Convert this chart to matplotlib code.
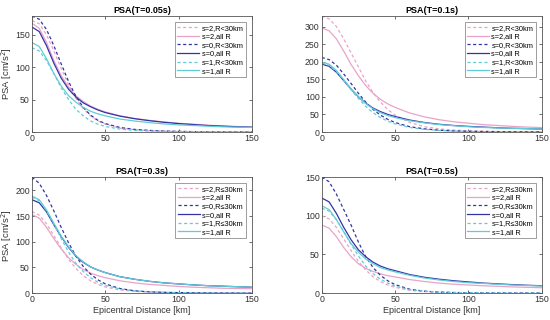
import matplotlib
matplotlib.use("Agg")
import numpy as np
from matplotlib import pyplot as plt

plt.rcParams['font.family'] = ['Liberation Sans', 'DejaVu Sans']

# epicentral distance samples [km]
dist = [0, 5, 10, 15, 20, 25, 30, 35, 40, 45, 50, 60, 70, 80, 90, 100, 110, 120, 130, 140, 150]

# PSA(T=0.05s)
t005_s2_r30 = [172, 167, 150, 125, 98, 73, 52, 36, 25, 17, 12, 6, 3.5, 2, 1.3, 0.8, 0.5, 0.3, 0.2, 0.15, 0.1]
t005_s2_all = [168, 160, 138, 110, 87, 69, 56, 47, 40, 35, 31, 25, 21, 18, 15.5, 13.5, 12, 10.5, 9.5, 8.5, 7.5]
t005_s0_r30 = [179, 174, 158, 133, 105, 78, 55, 38, 26, 18, 13, 7, 4, 2.5, 1.5, 1, 0.6, 0.4, 0.3, 0.2, 0.1]
t005_s0_all = [162, 155, 133, 106, 83, 66, 54, 45, 39, 34, 30, 24.5, 20.5, 17.5, 15, 13, 11.5, 10, 9, 8, 7.5]
t005_s1_r30 = [130, 125, 110, 90, 68, 50, 35, 25, 17, 12, 8.5, 4.5, 2.5, 1.5, 1, 0.6, 0.4, 0.3, 0.2, 0.1, 0.1]
t005_s1_all = [138, 132, 113, 90, 71, 56, 46, 38, 32, 28, 25, 20, 17, 14.5, 12.5, 11, 10, 9, 8, 7.5, 7]

# PSA(T=0.1s)
t01_s2_r30 = [330, 322, 300, 265, 225, 185, 145, 112, 85, 64, 48, 27, 15, 9, 5.5, 3.5, 2.3, 1.5, 1, 0.7, 0.5]
t01_s2_all = [296, 288, 265, 230, 192, 160, 132, 110, 93, 80, 70, 54, 43, 35, 29, 25, 21, 18.5, 16, 14, 12.5]
t01_s0_r30 = [212, 206, 190, 165, 138, 110, 85, 64, 48, 36, 27, 15, 9, 5, 3, 2, 1.3, 0.9, 0.6, 0.4, 0.3]
t01_s0_all = [193, 187, 170, 146, 122, 100, 82, 68, 58, 50, 44, 34, 27, 22, 18.5, 16, 14, 12, 10.5, 9.5, 8.5]
t01_s1_r30 = [196, 190, 172, 147, 120, 95, 73, 55, 41, 31, 23, 13, 7.5, 4.5, 2.8, 1.8, 1.2, 0.8, 0.5, 0.4, 0.3]
t01_s1_all = [199, 193, 175, 149, 123, 100, 81, 66, 55, 47, 41, 32, 26, 21, 18, 15, 13, 11.5, 10.5, 9.5, 8.5]

# PSA(T=0.3s)
t03_s2_r30 = [159, 152, 135, 112, 88, 66, 48, 34, 24, 17, 12, 6, 3.5, 2, 1.2, 0.8, 0.5, 0.3, 0.2, 0.15, 0.1]
t03_s2_all = [153, 146, 128, 106, 86, 69, 56, 46, 39, 34, 30, 24, 20, 17, 15, 13, 11.5, 10.5, 9.5, 9, 8.5]
t03_s0_r30 = [226, 214, 190, 160, 128, 98, 72, 52, 37, 26, 18, 9, 4.5, 2.5, 1.5, 1, 0.6, 0.4, 0.3, 0.2, 0.1]
t03_s0_all = [182, 176, 158, 133, 110, 89, 72, 60, 51, 45, 40, 32, 27, 23, 20, 18, 16, 14.5, 13.5, 12.5, 11.5]
t03_s1_r30 = [187, 180, 160, 134, 106, 80, 58, 42, 30, 21, 15, 8, 4.5, 2.5, 1.5, 1, 0.6, 0.4, 0.3, 0.2, 0.1]
t03_s1_all = [189, 182, 162, 136, 111, 90, 73, 61, 51, 45, 40, 32, 27, 23, 20, 18, 16, 14.5, 13.5, 12.5, 11.5]

# PSA(T=0.5s)
t05_s2_r30 = [100, 96, 85, 70, 55, 41, 30, 21, 15, 10.5, 7.5, 3.5, 2, 1, 0.6, 0.4, 0.3, 0.2, 0.1, 0.1, 0.1]
t05_s2_all = [88, 84, 73, 59, 47, 38, 32, 28, 25, 22.5, 21, 17.5, 15, 13, 11.5, 10.5, 9.5, 8.8, 8, 7.5, 7]
t05_s0_r30 = [150, 144, 128, 108, 88, 66, 47, 33, 23, 16, 11, 5, 2.5, 1.3, 0.8, 0.5, 0.3, 0.2, 0.1, 0.1, 0.1]
t05_s0_all = [123, 118, 103, 85, 69, 56, 47, 40, 35, 31.5, 29, 24, 20.5, 18, 16, 14.5, 13, 12, 11, 10.2, 9.5]
t05_s1_r30 = [110, 106, 95, 80, 63, 48, 35, 25, 18, 13, 9, 4.5, 2.5, 1.3, 0.8, 0.5, 0.3, 0.2, 0.1, 0.1, 0.1]
t05_s1_all = [113, 108, 95, 79, 64, 53, 44, 38, 33, 30, 27.5, 23, 19.5, 17, 15, 13.5, 12.5, 11.5, 10.5, 9.8, 9.2]

titles = ['PSA(T=0.05s)', 'PSA(T=0.1s)', 'PSA(T=0.3s)', 'PSA(T=0.5s)']
panels = [
    [t005_s2_r30, t005_s2_all, t005_s0_r30, t005_s0_all, t005_s1_r30, t005_s1_all],
    [t01_s2_r30, t01_s2_all, t01_s0_r30, t01_s0_all, t01_s1_r30, t01_s1_all],
    [t03_s2_r30, t03_s2_all, t03_s0_r30, t03_s0_all, t03_s1_r30, t03_s1_all],
    [t05_s2_r30, t05_s2_all, t05_s0_r30, t05_s0_all, t05_s1_r30, t05_s1_all],
]
labels_lt = ['s=2,R<30km', 's=2,all R', 's=0,R<30km', 's=0,all R', 's=1,R<30km', 's=1,all R']
labels_le = ['s=2,R\u226430km', 's=2,all R', 's=0,R\u226430km', 's=0,all R', 's=1,R\u226430km', 's=1,all R']

PINK = '#e9a3c9'
NAVY = '#3234a6'
CYAN = '#62ccd6'
colors = [PINK, PINK, NAVY, NAVY, CYAN, CYAN]
styles = [(0, (2.5, 2)), '-', (0, (2.5, 2)), '-', (0, (2.5, 2)), '-']

# axes boxes in figure fractions [left, bottom, width, height]
boxes = [
    [0.058, 0.5875, 0.40, 0.3625],
    [0.585, 0.5875, 0.40, 0.3625],
    [0.058, 0.084, 0.40, 0.3625],
    [0.585, 0.084, 0.40, 0.3625],
]
yticks = [[0, 50, 100, 150], np.arange(0, 301, 50), np.arange(0, 201, 50), [0, 50, 100, 150]]

fig = plt.figure(figsize=(5.5, 3.2), dpi=100, facecolor='white')
for k in range(4):
    ax = fig.add_axes(boxes[k])
    labels = labels_lt if k < 2 else labels_le
    for series, c, ls, lab in zip(panels[k], colors, styles, labels):
        ax.plot(dist, series, color=c, linestyle=ls, linewidth=0.9, label=lab)
    ymax = max(max(s) for s in panels[k])
    ax.set_xlim(0, 150)
    ax.set_ylim(0, ymax)
    ax.set_xticks([0, 50, 100, 150])
    ax.set_yticks(yticks[k])
    ax.tick_params(direction='in', length=2, width=0.5, labelsize=6.3,
                   colors='#333333', top=True, right=True, pad=1.5)
    for sp in ax.spines.values():
        sp.set_color('#555555')
        sp.set_linewidth(0.6)
    ax.set_title(titles[k], fontsize=6.5, fontweight='bold', pad=2.5)
    if k % 2 == 0:
        ax.set_ylabel('PSA [cm/s$^2$]', fontsize=6.8, color='#333333', labelpad=1)
    if k >= 2:
        ax.set_xlabel('Epicentral Distance [km]', fontsize=6.5, color='#333333', labelpad=1)
    leg = ax.legend(loc='upper right', fontsize=5.3, frameon=True, fancybox=False,
                    framealpha=1, edgecolor='#777777', handlelength=3.0,
                    handletextpad=0.3, labelspacing=0.2, borderpad=0.35,
                    borderaxespad=0.8)
    leg.get_frame().set_linewidth(0.5)

fig.savefig('out.png', dpi=100, facecolor='white')
